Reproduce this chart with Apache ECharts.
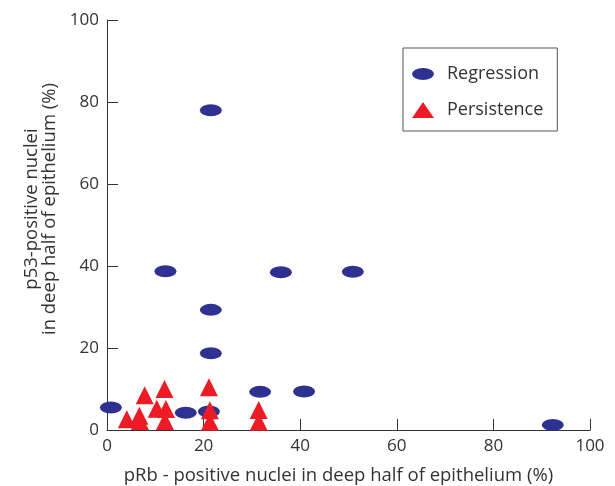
<!DOCTYPE html>
<html lang="en">
<head>
    <meta charset="UTF-8">
    <title>pRb vs p53</title>
    <script src="https://cdn.jsdelivr.net/npm/echarts@6/dist/echarts.min.js"></script>
    <style>
        html, body { margin: 0; padding: 0; background: #fff; }
    </style>
</head>
<body>
    <div id="main" style="width: 615px;height:486px;"></div>
    <script>
        // values: [pRb %, p53 %]
        var regression = [
            [21.5, 78], [12.1, 38.7], [36, 38.5], [50.9, 38.6],
            [21.5, 29.3], [21.5, 18.7], [31.7, 9.3], [40.8, 9.4],
            [16.3, 4.2], [21.1, 4.5], [0.8, 5.5], [92.3, 1.2]
        ];
        var persistence = [
            [4.1, 2.6], [6.7, 3.5], [6.8, 2.2], [7.8, 8.5],
            [11.9, 10.0], [10.3, 5.2], [12.2, 5.1], [12.0, 2.2],
            [21.1, 10.4], [21.3, 4.8], [21.3, 2.0], [31.4, 4.9], [31.4, 2.0]
        ];
        var seriesNames = ['Regression', 'Persistence'];
        var xName = 'pRb - positive nuclei in deep half of epithelium (%)';
        var yName = 'p53-positive nuclei\nin deep half of epithelium (%)';

        var font = 'Open Sans';
        var ellipse = 'path://M0,6a11,6 0 1,0 22,0a11,6 0 1,0 -22,0';

        var myChart = echarts.init(document.getElementById('main'));
        myChart.setOption({
            animation: false,
            textStyle: { fontFamily: font },
            grid: { left: 107, right: 25, top: 20, bottom: 56, outerBoundsMode: 'none', containLabel: false },
            legend: {
                left: 403, top: 48,
                orient: 'vertical',
                itemWidth: 22, itemHeight: 16, itemGap: 18,
                symbolKeepAspect: true,
                padding: [17, 14, 12, 9],
                borderColor: '#555', borderWidth: 1,
                textStyle: { fontSize: 18, color: '#333', fontFamily: font, padding: [0, 0, 0, 8] },
                data: [
                    { name: seriesNames[0], icon: ellipse },
                    { name: seriesNames[1], icon: 'triangle' }
                ]
            },
            xAxis: {
                type: 'value', min: 0, max: 100, interval: 20,
                name: xName, nameLocation: 'middle', nameGap: 36,
                nameTextStyle: { fontSize: 18.5, color: '#333', padding: [0, 20, 0, 0] },
                axisLine: { lineStyle: { color: '#333' } },
                axisTick: { inside: true, length: 11, lineStyle: { color: '#333' } },
                axisLabel: { fontSize: 17, color: '#333', margin: 8 },
                splitLine: { show: false }
            },
            yAxis: {
                type: 'value', min: 0, max: 100, interval: 20,
                name: yName, nameLocation: 'middle', nameGap: 44,
                nameTextStyle: { fontSize: 18.5, color: '#333', lineHeight: 18, padding: [0, 0, 0, 32] },
                axisLine: { show: true, lineStyle: { color: '#333' } },
                axisTick: { show: true, inside: true, length: 11, lineStyle: { color: '#333' } },
                axisLabel: { fontSize: 17, color: '#333', margin: 8 },
                splitLine: { show: false }
            },
            series: [
                {
                    name: seriesNames[0], type: 'scatter',
                    symbol: ellipse, symbolSize: [22, 12],
                    itemStyle: { color: '#2e3192', opacity: 1 },
                    clip: false, z: 2,
                    data: regression
                },
                {
                    name: seriesNames[1], type: 'scatter',
                    symbol: 'triangle', symbolSize: [18, 18],
                    itemStyle: { color: '#ed1c24', opacity: 1 },
                    clip: false, z: 3,
                    data: persistence
                }
            ]
        });
    </script>
</body>
</html>
